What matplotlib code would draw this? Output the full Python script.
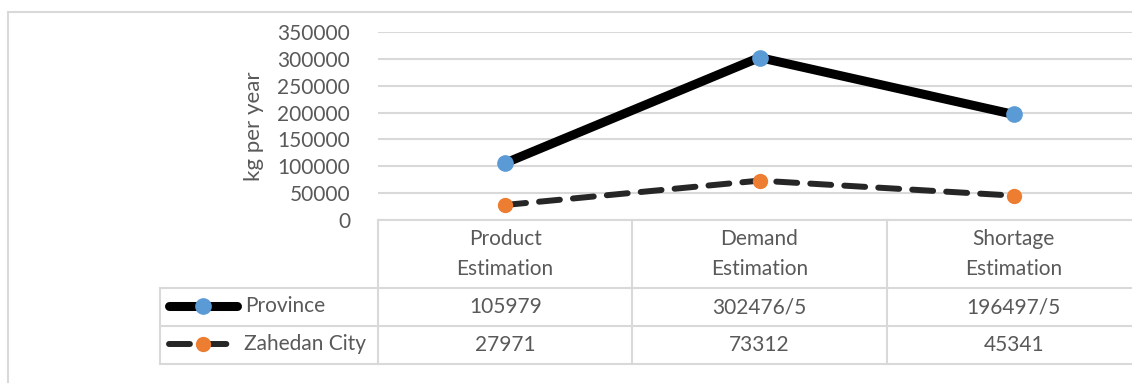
import matplotlib.pyplot as plt
from matplotlib.lines import Line2D

# data
categories = ['Product\nEstimation', 'Demand\nEstimation', 'Shortage\nEstimation']
province = [105979, 302476.5, 196497.5]
zahedan = [27971, 73312, 45341]
province_labels = ['105979', '302476/5', '196497/5']
zahedan_labels = ['27971', '73312', '45341']
yticks = [0, 50000, 100000, 150000, 200000, 250000, 300000, 350000]

W, H = 1132, 383
grey = '#d9d9d9'
txt = '#595959'
fs = 15
plt.rcParams['font.family'] = ['Lato', 'DejaVu Sans']

fig = plt.figure(figsize=(W / 100, H / 100), dpi=100)


def fx(px):
    return px / W


def fy(py):
    return 1 - py / H


# plot area in pixels: x 378..1141, y 32..220
left, right, top, bottom = 378, 1141, 32, 220
ax = fig.add_axes([fx(left), fy(bottom), fx(right - left), (bottom - top) / H])
ax.set_xlim(-0.5, 2.5)
ax.set_ylim(0, 350000)
ax.set_yticks(yticks)
ax.set_yticklabels([str(v) for v in yticks], fontsize=fs, color=txt)
ax.tick_params(axis='y', length=0, pad=20)
ax.set_xticks([])
for s in ['top', 'right', 'left']:
    ax.spines[s].set_visible(False)
ax.spines['bottom'].set_color(grey)
ax.spines['bottom'].set_linewidth(1.5)
ax.grid(axis='y', color=grey, linewidth=1.5)
ax.set_axisbelow(True)
ax.set_ylabel('kg per year', fontsize=16, color=txt, labelpad=10)

x = range(len(categories))
ax.plot(x, province, color='black', linewidth=6.5, solid_capstyle='round',
        marker='o', markersize=11, markerfacecolor='#5B9BD5', markeredgecolor='#5B9BD5',
        clip_on=False, zorder=3)
ax.plot(x, zahedan, color='#262626', linewidth=4.3, linestyle=(0, (3.5, 2.2)),
        dash_capstyle='round', marker='o', markersize=10,
        markerfacecolor='#ED7D31', markeredgecolor='#ED7D31', clip_on=False, zorder=3)

# data table (figure pixel coordinates)
tf = fig.transFigure
col_w = (right - left) / 3
cols = [left + i * col_w for i in range(4)]
rows = [220, 288, 326, 364]


def hline(py, x0, x1):
    fig.add_artist(Line2D([fx(x0), fx(x1)], [fy(py), fy(py)], color=grey, linewidth=1.5, transform=tf))


def vline(px, y0, y1):
    fig.add_artist(Line2D([fx(px), fx(px)], [fy(y0), fy(y1)], color=grey, linewidth=1.5, transform=tf))


for r in rows[1:]:
    hline(r, 160, W + 10)
for c in cols[:3]:
    vline(c, 220, 364)
vline(160, 288, 364)

for i, cat in enumerate(categories):
    cx = fx(cols[i] + col_w / 2)
    fig.text(cx, fy(254), cat, ha='center', va='center', fontsize=fs, color=txt,
             linespacing=1.6)
    fig.text(cx, fy(307), province_labels[i], ha='center', va='center', fontsize=fs, color=txt)
    fig.text(cx, fy(345), zahedan_labels[i], ha='center', va='center', fontsize=fs, color=txt)

# legend keys
fig.add_artist(Line2D([fx(169), fx(237)], [fy(306), fy(306)], color='black', linewidth=6.5,
                      solid_capstyle='round', transform=tf))
fig.add_artist(Line2D([fx(203)], [fy(306)], marker='o', markersize=11, color='#5B9BD5',
                      transform=tf))
fig.add_artist(Line2D([fx(169), fx(232)], [fy(344), fy(344)], color='#262626', linewidth=4.3,
                      linestyle=(0, (3.5, 2.6)), dash_capstyle='round', transform=tf))
fig.add_artist(Line2D([fx(203)], [fy(344)], marker='o', markersize=10, color='#ED7D31',
                      transform=tf))
fig.text(fx(245), fy(306), 'Province', ha='left', va='center', fontsize=fs, color=txt)
fig.text(fx(244), fy(344), 'Zahedan City', ha='left', va='center', fontsize=fs, color=txt)

# outer chart border (cropped)
fig.add_artist(Line2D([fx(7.5), fx(7.5)], [fy(12), fy(H + 5)], color=grey, linewidth=1.5, transform=tf))
fig.add_artist(Line2D([fx(7.5), fx(W + 5)], [fy(12), fy(12)], color=grey, linewidth=1.5, transform=tf))

fig.savefig('out.png', dpi=100)
